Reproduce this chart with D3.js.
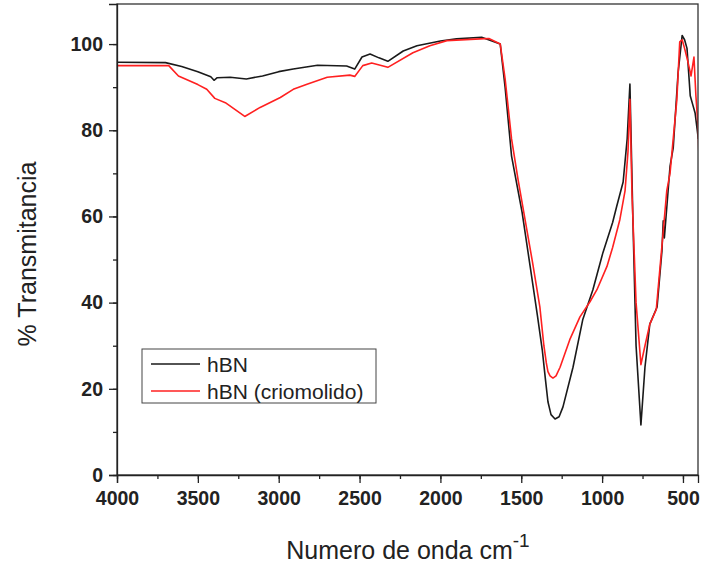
<!DOCTYPE html>
<html><head><meta charset="utf-8">
<script src="https://cdn.jsdelivr.net/npm/d3@7"></script>
<style>body{margin:0;background:#fff}svg{display:block}text{font-family:"Liberation Sans",Arial,sans-serif}</style>
</head><body><div id="chart"></div>
<script>
// Wavenumber (cm^-1) and % transmittance
const hbnWave = [4000,3700,3600,3500,3420,3400,3380,3300,3200,3100,3000,2910,2760,2580,2530,2485,2435,2380,2325,2230,2145,2000,1900,1745,1630,1600,1560,1520,1495,1445,1400,1370,1350,1335,1316,1291,1266,1242,1180,1120,1057,995,935,910,870,845,828,810,790,760,735,705,660,630,622,615,580,560,530,505,490,475,455,440,425,405];
const hbnT =    [95.8,95.7,94.8,93.6,92.4,91.6,92.2,92.3,91.9,92.6,93.6,94.2,95.1,94.9,94.2,97.0,97.7,96.8,96.0,98.4,99.6,100.7,101.2,101.6,100.0,90,74,66,61,48.4,37,29,22,17,14,13,13.5,15.8,25,36,43,51.6,58.6,62.3,68,78,90.7,60,30,11.6,25,35,39,52,59,55,71.6,76,93.4,102,101,99,88,86,84,78];
const crioWave = [4000,3680,3620,3500,3445,3395,3330,3210,3115,2990,2910,2825,2700,2560,2530,2480,2425,2325,2170,2065,1960,1755,1700,1630,1600,1560,1520,1430,1385,1360,1345,1335,1322,1304,1285,1260,1200,1137,1075,1032,970,935,890,858,840,828,815,790,760,735,705,665,625,600,580,538,520,505,490,470,450,432,420,407,400];
const crioT =    [95.0,95.0,92.6,90.6,89.5,87.4,86.4,83.2,85.3,87.6,89.5,90.7,92.3,92.8,92.5,95.0,95.6,94.6,98.0,99.6,100.8,101.2,101.3,100.0,92,78,68.6,49.3,39,30,26,24,23,22.5,23,25,31.4,36.7,40.2,43,48.4,52.8,59.3,66,75,87.2,65,40,25.6,30,35,38.4,55.3,66,70,87,100.5,101,99,96,92.6,97,88,81,72.5];
const xTicks = [4000,3500,3000,2500,2000,1500,1000,500];
const yTicks = [0,20,40,60,80,100];
const seriesNames = ["hBN","hBN (criomolido)"];
const seriesColors = ["#1a1a1a","#ff2020"];

const W=705,H=565;
const m={left:117,right:7,top:4,bottom:90};
const svg=d3.select("#chart").append("svg").attr("width",W).attr("height",H);
const x=d3.scaleLinear().domain([4000,407]).range([m.left,W-m.right]);
const y=d3.scaleLinear().domain([0,109.3]).range([H-m.bottom,m.top]);

svg.append("clipPath").attr("id","clip").append("rect")
  .attr("x",m.left).attr("y",m.top).attr("width",W-m.right-m.left).attr("height",H-m.bottom-m.top);

const line=d3.line().x(d=>x(d[0])).y(d=>y(d[1]));
const data=[d3.zip(hbnWave,hbnT), d3.zip(crioWave,crioT)];
svg.append("g").attr("clip-path","url(#clip)").selectAll("path").data(data).join("path")
  .attr("d",line).attr("fill","none")
  .attr("stroke",(d,i)=>seriesColors[i]).attr("stroke-width",1.6).attr("stroke-linejoin","round");

// frame
svg.append("rect").attr("x",m.left).attr("y",m.top).attr("width",W-m.right-m.left).attr("height",H-m.bottom-m.top)
  .attr("fill","none").attr("stroke","#333").attr("stroke-width",1.3);

const tickFont=g=>g.selectAll("text").attr("font-size",19.5).attr("font-weight","bold").attr("fill","#222")
  .style("font-family","'Liberation Sans',Arial,sans-serif");

// x axis
svg.append("g").attr("transform",`translate(0,${H-m.bottom})`)
  .call(d3.axisBottom(x).tickValues(d3.range(4000,399,-250)).tickSize(4).tickFormat(""))
  .call(g=>g.select(".domain").remove()).selectAll("line").attr("stroke","#222").attr("stroke-width",1.3);
const xa2=svg.append("g").attr("transform",`translate(0,${H-m.bottom})`)
  .call(d3.axisBottom(x).tickValues(xTicks).tickSize(8).tickPadding(8).tickFormat(d3.format("d")));
xa2.select(".domain").attr("stroke","#222").attr("stroke-width",1.3);
xa2.selectAll("line").attr("stroke","#222").attr("stroke-width",1.3);
tickFont(xa2);

// y axis
svg.append("g").attr("transform",`translate(${m.left},0)`)
  .call(d3.axisLeft(y).tickValues(d3.range(0,110,10)).tickSize(4).tickFormat(""))
  .call(g=>g.select(".domain").remove()).selectAll("line").attr("stroke","#222").attr("stroke-width",1.3);
const ya2=svg.append("g").attr("transform",`translate(${m.left},0)`)
  .call(d3.axisLeft(y).tickValues(yTicks).tickSize(8).tickPadding(6));
ya2.select(".domain").attr("stroke","#222").attr("stroke-width",1.3);
ya2.selectAll("line").attr("stroke","#222").attr("stroke-width",1.3);
tickFont(ya2);

// axis titles
const xt=svg.append("text").attr("x",408).attr("y",559).attr("text-anchor","middle")
  .attr("font-size",25).attr("fill","#222");
xt.append("tspan").text("Numero de onda cm");
xt.append("tspan").attr("dy",-12).attr("font-size",19).text("-1");
svg.append("text").attr("transform","translate(36,254) rotate(-90)").attr("text-anchor","middle")
  .attr("font-size",25).attr("fill","#222").text("% Transmitancia");

// legend
const lg=svg.append("g");
lg.append("rect").attr("x",142).attr("y",349).attr("width",234).attr("height",54)
  .attr("fill","#fff").attr("stroke","#444").attr("stroke-width",1);
seriesNames.forEach((n,i)=>{
  const yy=364+i*27;
  lg.append("line").attr("x1",151).attr("x2",200).attr("y1",yy).attr("y2",yy)
    .attr("stroke",seriesColors[i]).attr("stroke-width",1.6);
  lg.append("text").attr("x",207).attr("y",yy+7.5).attr("font-size",21).attr("fill","#222").text(n);
});
</script></body></html>
